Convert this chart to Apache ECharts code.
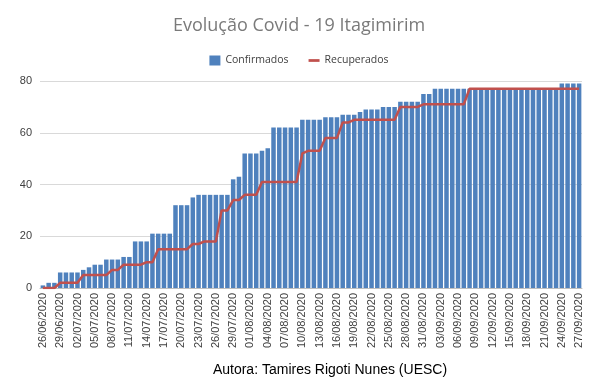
<!DOCTYPE html>
<html>
<head>
<meta charset="utf-8">
<script src="https://cdn.jsdelivr.net/npm/echarts@6/dist/echarts.min.js"></script>
<style>
html,body{margin:0;padding:0;background:#fff;}
#chart{width:598px;height:392px;}
</style>
</head>
<body>
<div id="chart"></div>
<script>
const categories = [
'26/06/2020','27/06/2020','28/06/2020','29/06/2020','30/06/2020',
'01/07/2020','02/07/2020','03/07/2020','04/07/2020','05/07/2020','06/07/2020','07/07/2020','08/07/2020','09/07/2020','10/07/2020',
'11/07/2020','12/07/2020','13/07/2020','14/07/2020','15/07/2020','16/07/2020','17/07/2020','18/07/2020','19/07/2020','20/07/2020',
'21/07/2020','22/07/2020','23/07/2020','24/07/2020','25/07/2020','26/07/2020','27/07/2020','28/07/2020','29/07/2020','30/07/2020','31/07/2020',
'01/08/2020','02/08/2020','03/08/2020','04/08/2020','05/08/2020','06/08/2020','07/08/2020','08/08/2020','09/08/2020','10/08/2020',
'11/08/2020','12/08/2020','13/08/2020','14/08/2020','15/08/2020','16/08/2020','17/08/2020','18/08/2020','19/08/2020','20/08/2020',
'21/08/2020','22/08/2020','23/08/2020','24/08/2020','25/08/2020','26/08/2020','27/08/2020','28/08/2020','29/08/2020','30/08/2020','31/08/2020',
'01/09/2020','02/09/2020','03/09/2020','04/09/2020','05/09/2020','06/09/2020','07/09/2020','08/09/2020','09/09/2020','10/09/2020',
'11/09/2020','12/09/2020','13/09/2020','14/09/2020','15/09/2020','16/09/2020','17/09/2020','18/09/2020','19/09/2020','20/09/2020',
'21/09/2020','22/09/2020','23/09/2020','24/09/2020','25/09/2020','26/09/2020','27/09/2020'
];
const confirmados = [
1,2,2,6,6,6,6,7,8,9,
9,11,11,11,12,12,18,18,18,21,
21,21,21,32,32,32,35,36,36,36,
36,36,36,42,43,52,52,52,53,54,
62,62,62,62,62,65,65,65,65,66,
66,66,67,67,67,68,69,69,69,70,
70,70,72,72,72,72,75,75,77,77,
77,77,77,77,77,77,77,77,77,77,
77,77,77,77,77,77,77,77,77,77,
79,79,79,79
];
const recuperados = [
0,0,0,2,2,2,2,5,5,5,
5,5,7,7,9,9,9,9,10,10,
15,15,15,15,15,15,17,17,18,18,
18,30,30,34,34,36,36,36,41,41,
41,41,41,41,41,52,53,53,53,58,
58,58,64,64,65,65,65,65,65,65,
65,65,70,70,70,70,71,71,71,71,
71,71,71,71,77,77,77,77,77,77,
77,77,77,77,77,77,77,77,77,77,
77,77,77,77
];
const yTicks = {min: 0, max: 80, interval: 20};
const titleText = 'Evolução Covid - 19 Itagimirim';
const footerText = 'Autora: Tamires Rigoti Nunes (UESC)';

const chart = echarts.init(document.getElementById('chart'), null, {renderer: 'canvas'});
chart.setOption({
  animation: false,
  backgroundColor: '#ffffff',
  title: [
    {text: titleText, left: 'center', top: 12,
     textStyle: {fontFamily: 'Open Sans', fontSize: 18, fontWeight: 'normal', color: '#7a7a7a'}},
    {text: footerText, left: 325, top: 358, textAlign: 'center',
     textStyle: {fontFamily: 'Liberation Sans', fontSize: 14, fontWeight: 'normal', color: '#000000'}}
  ],
  legend: {
    top: 50, left: 'center', itemGap: 20, itemWidth: 11, itemHeight: 10,
    textStyle: {fontFamily: 'Open Sans', fontSize: 10.5, color: '#404040'},
    data: [
      {name: 'Confirmados', icon: 'rect'},
      {name: 'Recuperados', icon: 'path://M0,4 L12,4 L12,7 L0,7 Z'}
    ]
  },
  grid: {left: 40, right: 16, top: 81, bottom: 104, containLabel: false},
  xAxis: {
    type: 'category', data: categories, boundaryGap: true,
    axisLine: {show: true, lineStyle: {color: '#bfbfbf', width: 1}},
    axisTick: {show: false},
    axisLabel: {interval: 2, rotate: 90, fontFamily: 'Liberation Sans', fontSize: 11, color: '#404040', margin: 5}
  },
  yAxis: {
    type: 'value', min: yTicks.min, max: yTicks.max, interval: yTicks.interval,
    axisLine: {show: false}, axisTick: {show: false},
    splitLine: {lineStyle: {color: '#d9d9d9', width: 1}},
    axisLabel: {fontFamily: 'Liberation Sans', fontSize: 11, color: '#404040', margin: 8}
  },
  series: [
    {name: 'Confirmados', type: 'bar', data: confirmados, barCategoryGap: '22%',
     itemStyle: {color: '#4f81bd'}},
    {name: 'Recuperados', type: 'line', data: recuperados, symbol: 'none',
     lineStyle: {color: '#c0504d', width: 2.5}, itemStyle: {color: '#c0504d'}}
  ]
});
</script>
</body>
</html>
